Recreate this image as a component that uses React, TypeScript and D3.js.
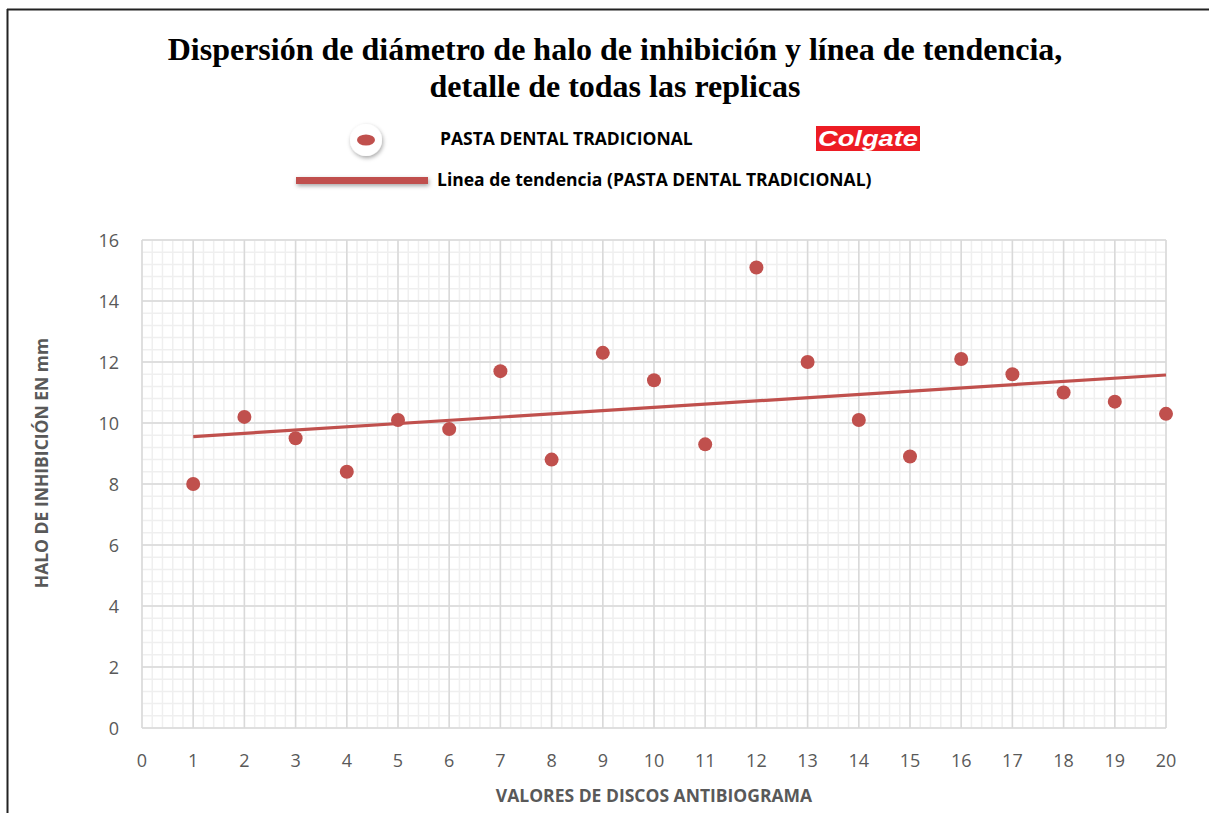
import { useEffect, useRef } from 'react';
import * as d3 from 'd3';

const discos = [1, 2, 3, 4, 5, 6, 7, 8, 9, 10, 11, 12, 13, 14, 15, 16, 17, 18, 19, 20];
const halo = [8.0, 10.2, 9.5, 8.4, 10.1, 9.8, 11.7, 8.8, 12.3, 11.4, 9.3, 15.1, 12.0, 10.1, 8.9, 12.1, 11.6, 11.0, 10.7, 10.3];
const xTicks = d3.range(0, 21);
const yTicks = [0, 2, 4, 6, 8, 10, 12, 14, 16];
const titleLines = [
  'Dispersión de diámetro de halo de inhibición y línea de tendencia,',
  'detalle de todas las replicas',
];
const seriesName = 'PASTA DENTAL TRADICIONAL';
const trendName = 'Linea de tendencia (PASTA DENTAL TRADICIONAL)';

const RED = '#C0504D';

function Chart() {
  const svgRef = useRef<SVGSVGElement>(null);

  useEffect(() => {
    const svg = d3.select(svgRef.current);
    svg.selectAll('*').remove();

    const left = 142, right = 1166, top = 240, bottom = 728;
    const x = d3.scaleLinear().domain([0, 20]).range([left, right]);
    const y = d3.scaleLinear().domain([0, 16]).range([bottom, top]);

    const defs = svg.append('defs');
    const f = defs.append('filter').attr('id', 'sh')
      .attr('filterUnits', 'userSpaceOnUse')
      .attr('x', 0).attr('y', 0).attr('width', 1209).attr('height', 813);
    f.append('feDropShadow').attr('dx', 1).attr('dy', 2).attr('stdDeviation', 2).attr('flood-color', '#000').attr('flood-opacity', 0.35);

    // outer frame
    svg.append('line').attr('x1', 7).attr('x2', 1209).attr('y1', 9.5).attr('y2', 9.5).attr('stroke', '#222').attr('stroke-width', 2);
    svg.append('line').attr('x1', 7.5).attr('x2', 7.5).attr('y1', 9).attr('y2', 813).attr('stroke', '#222').attr('stroke-width', 2);

    // title
    titleLines.forEach((t, i) => {
      svg.append('text')
        .attr('x', 615).attr('y', 60 + i * 37)
        .attr('text-anchor', 'middle')
        .attr('font-family', '"Liberation Serif", "Times New Roman", serif')
        .attr('font-weight', 'bold').attr('font-size', 32)
        .attr('fill', '#000')
        .text(t);
    });

    // minor grid
    const g = svg.append('g');
    const minorX = d3.range(0, 20.001, 0.2);
    const minorY = d3.range(0, 16.001, 0.4);
    g.selectAll('.mx').data(minorX).join('line')
      .attr('x1', d => x(d)).attr('x2', d => x(d)).attr('y1', top).attr('y2', bottom)
      .attr('stroke', '#efefef').attr('stroke-width', 1.5);
    g.selectAll('.my').data(minorY).join('line')
      .attr('x1', left).attr('x2', right).attr('y1', d => y(d)).attr('y2', d => y(d))
      .attr('stroke', '#efefef').attr('stroke-width', 1.5);
    // major grid
    g.selectAll('.Mx').data(xTicks).join('line')
      .attr('x1', d => x(d)).attr('x2', d => x(d)).attr('y1', top).attr('y2', bottom)
      .attr('stroke', '#d9d9d9').attr('stroke-width', 1.5);
    g.selectAll('.My').data(yTicks).join('line')
      .attr('x1', left).attr('x2', right).attr('y1', d => y(d)).attr('y2', d => y(d))
      .attr('stroke', '#d9d9d9').attr('stroke-width', 1.5);

    // tick labels
    const tickFont = '"Open Sans", "Noto Sans", sans-serif';
    svg.append('g').selectAll('text').data(xTicks).join('text')
      .attr('x', d => x(d)).attr('y', 767)
      .attr('text-anchor', 'middle')
      .attr('font-family', tickFont).attr('font-size', 18).attr('fill', '#595959')
      .text(d => d);
    svg.append('g').selectAll('text').data(yTicks).join('text')
      .attr('x', 119).attr('y', d => y(d) + 7)
      .attr('text-anchor', 'end')
      .attr('font-family', tickFont).attr('font-size', 18).attr('fill', '#595959')
      .text(d => d);

    // axis titles
    svg.append('text')
      .attr('x', 654).attr('y', 802)
      .attr('text-anchor', 'middle')
      .attr('font-family', tickFont).attr('font-weight', 'bold').attr('font-size', 17.5).attr('fill', '#595959')
      .text('VALORES DE DISCOS ANTIBIOGRAMA');
    svg.append('text')
      .attr('transform', `translate(48,463) rotate(-90)`)
      .attr('text-anchor', 'middle')
      .attr('font-family', tickFont).attr('font-weight', 'bold').attr('font-size', 17.5).attr('fill', '#595959')
      .text('HALO DE INHIBICIÓN EN mm');

    // trend line (least squares)
    const mx = d3.mean(discos)!;
    const my = d3.mean(halo)!;
    const slope = d3.sum(discos, (d, i) => (d - mx) * (halo[i] - my)) / d3.sum(discos, d => (d - mx) ** 2);
    const icpt = my - slope * mx;
    const x0 = d3.min(discos)!, x1 = d3.max(discos)!;
    svg.append('line')
      .attr('x1', x(x0)).attr('y1', y(icpt + slope * x0))
      .attr('x2', x(x1)).attr('y2', y(icpt + slope * x1))
      .attr('stroke', RED).attr('stroke-width', 3.2);

    // points
    svg.append('g').selectAll('circle').data(discos).join('circle')
      .attr('cx', d => x(d)).attr('cy', (d, i) => y(halo[i]))
      .attr('r', 7).attr('fill', RED);

    // legend
    const lg = svg.append('g');
    lg.append('circle').attr('cx', 366).attr('cy', 140).attr('r', 16).attr('fill', '#fff').attr('filter', 'url(#sh)');
    lg.append('ellipse').attr('cx', 366).attr('cy', 140).attr('rx', 9).attr('ry', 5.5).attr('fill', RED);
    lg.append('text').attr('x', 440).attr('y', 145)
      .attr('font-family', tickFont).attr('font-weight', 'bold').attr('font-size', 17.5).attr('fill', '#000')
      .text(seriesName);
    lg.append('rect').attr('x', 816).attr('y', 126).attr('width', 104).attr('height', 25).attr('fill', '#ED1C24');
    lg.append('text').attr('x', 818).attr('y', 146)
      .attr('textLength', 100).attr('lengthAdjust', 'spacingAndGlyphs')
      .attr('font-family', '"Liberation Sans", Arial, sans-serif').attr('font-weight', 'bold').attr('font-style', 'italic')
      .attr('font-size', 22).attr('fill', '#fff')
      .text('Colgate');
    lg.append('rect').attr('x', 296).attr('y', 177).attr('width', 132).attr('height', 7)
      .attr('fill', RED).attr('filter', 'url(#sh)');
    lg.append('text').attr('x', 437).attr('y', 186)
      .attr('font-family', tickFont).attr('font-weight', 'bold').attr('font-size', 17.5).attr('fill', '#000')
      .text(trendName);
  }, []);

  return <svg ref={svgRef} width={1209} height={813} style={{ position: 'absolute', left: 0, top: 0, background: '#fff' }} />;
}

export default function App() {
  return <Chart />;
}
